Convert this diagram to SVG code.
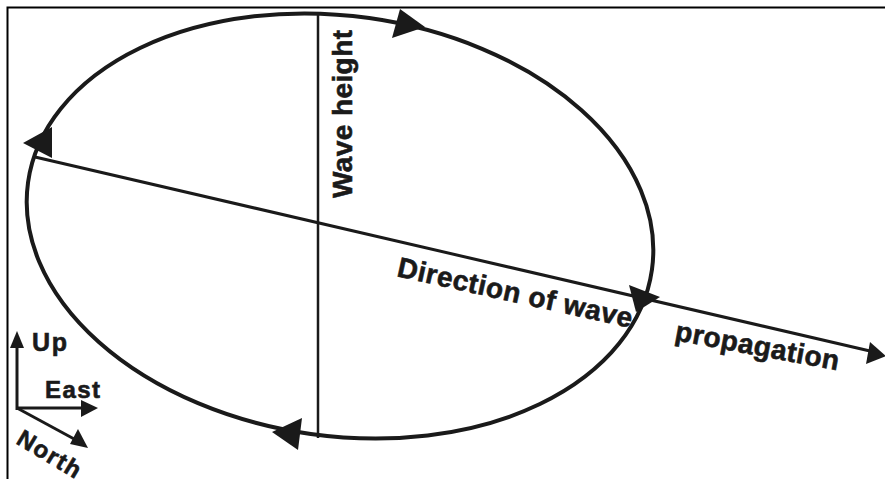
<svg xmlns="http://www.w3.org/2000/svg" width="885" height="479" viewBox="0 0 885 479">
<style>
.t{font-family:"Liberation Sans",Arial,sans-serif;font-weight:bold;fill:#1a1a1a;stroke:#1a1a1a;stroke-width:0.6}
.ln{stroke:#1a1a1a;fill:none}
.ah{fill:#1a1a1a}
</style>
<rect width="885" height="479" fill="#fff"/>
<g id="frame">
<path d="M7.5 479 V7.5 H885" stroke="#000" stroke-width="2" fill="none"/>
</g>
<g id="orbit">
<ellipse cx="340" cy="226" rx="315" ry="210" transform="rotate(8 340 226)" class="ln" stroke-width="4"/>
</g>
<g id="connectors">
<line x1="318" y1="15" x2="318" y2="438" class="ln" stroke-width="2.5"/>
<line x1="35" y1="157" x2="870" y2="351" class="ln" stroke-width="3"/>
<polygon class="ah" points="886,356 870,342 866,364"/>
<polygon class="ah" points="400,9 392,38 425,27"/>
<polygon class="ah" points="23,143 52,127 52,158"/>
<polygon class="ah" points="629,285 660,297 636,312"/>
<polygon class="ah" points="302,418 272,432 298,450"/>
</g>
<g id="labels">
<text class="t" font-size="28" transform="translate(352 198) rotate(-90)" textLength="168">Wave height</text>
<text class="t" font-size="28" transform="translate(396 276) rotate(12.5)" textLength="240">Direction of wave</text>
<text class="t" font-size="28" transform="translate(674 340) rotate(10.5)" textLength="166">propagation</text>
</g>
<g id="compass">
<line x1="17" y1="410" x2="17" y2="345" class="ln" stroke-width="3"/>
<polygon class="ah" points="17,331 10,348 24,348"/>
<line x1="16" y1="408" x2="84" y2="408" class="ln" stroke-width="3"/>
<polygon class="ah" points="98,408 81,400 81,417"/>
<line x1="17" y1="408" x2="76" y2="440" class="ln" stroke-width="3"/>
<polygon class="ah" points="88,448 70,444 78,429"/>
<text class="t" font-size="25" x="32" y="351" textLength="35">Up</text>
<text class="t" font-size="24" x="45" y="398" textLength="55">East</text>
<text class="t" font-size="24" transform="translate(15 443) rotate(31)" textLength="70">North</text>
</g>
</svg>
